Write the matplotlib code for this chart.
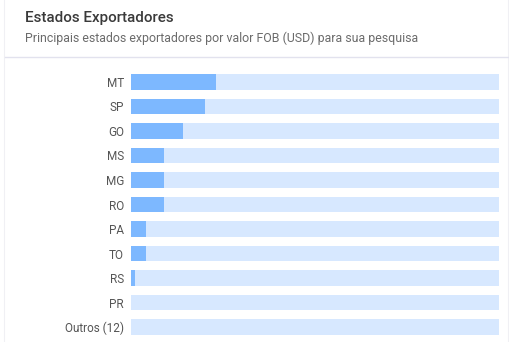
import matplotlib.pyplot as plt
from matplotlib.patches import Rectangle
from matplotlib.lines import Line2D

states = ['MT', 'SP', 'GO', 'MS', 'MG', 'RO', 'PA', 'TO', 'RS', 'PR', 'Outros (12)']
share = [23, 20, 14, 9, 9, 9, 4, 4, 1, 0, 0]
max_share = 100

plt.rcParams['font.family'] = ['Roboto', 'DejaVu Sans']

W, H = 510, 342
fig = plt.figure(figsize=(W / 100, H / 100), dpi=100)
fig.patch.set_facecolor('white')

# card border and header separator
fig.add_artist(Rectangle((4.5 / W, -0.01), (508 - 4.5) / W, 1.2, transform=fig.transFigure,
                         facecolor='none', edgecolor='#f0f0f4', linewidth=0.8))
fig.add_artist(Line2D([5 / W, 508 / W], [1 - 56.5 / H] * 2, transform=fig.transFigure,
                      color='#e2e2ee', linewidth=1))

fig.text(25 / W, 1 - 18 / H, 'Estados Exportadores', fontsize=10.9, color='#3a3a3a',
         va='center', ha='left', fontweight='medium')
fig.text(25 / W, 1 - 38 / H, 'Principais estados exportadores por valor FOB (USD) para sua pesquisa',
         fontsize=8.9, color='#6b6b6b', va='center', ha='left')

ax = fig.add_axes([131 / W, 7 / H, 368 / W, 261 / H])
y = list(range(len(states)))
ax.barh(y, [max_share] * len(states), height=0.653, color='#d7e8ff', linewidth=0)
ax.barh(y, share, height=0.653, color='#7db8ff', linewidth=0)
ax.set_xlim(0, max_share)
ax.set_ylim(len(states) - 1 + 0.3265, -0.3265)
ax.set_yticks(y)
ax.set_yticklabels(states, fontsize=8.5, color='#555555')
ax.tick_params(axis='y', length=0, pad=5)
ax.set_xticks([])
for s in ax.spines.values():
    s.set_visible(False)
ax.set_facecolor('none')

fig.savefig('out.png', dpi=100)
